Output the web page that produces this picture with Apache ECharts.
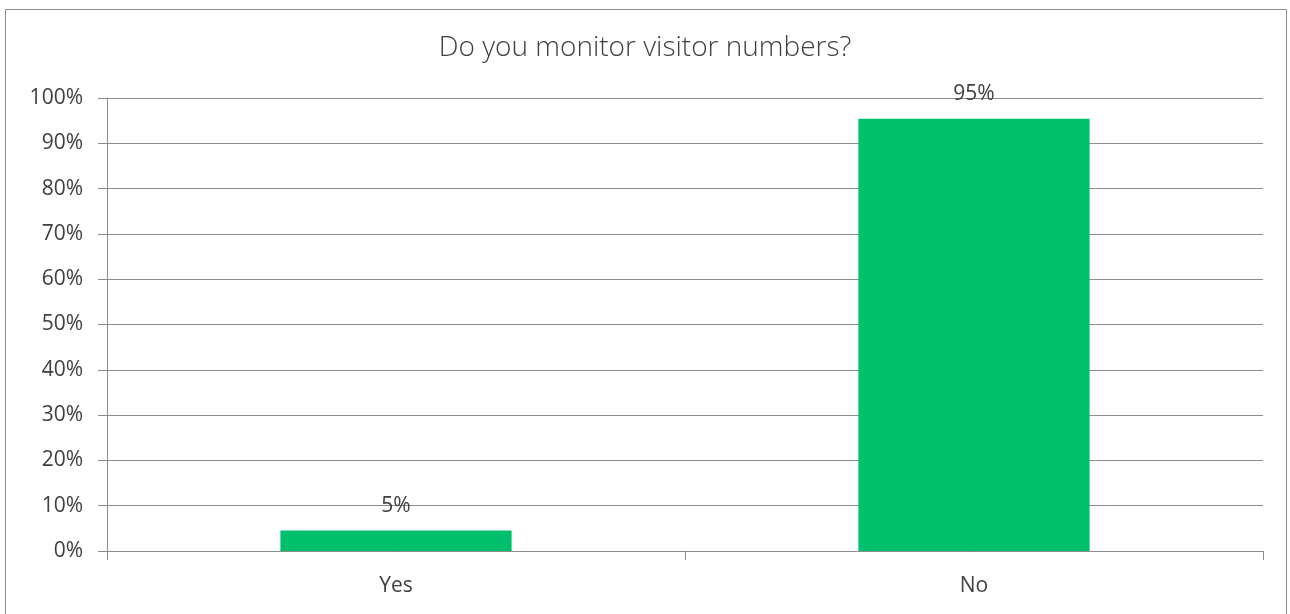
<!DOCTYPE html>
<html><head><meta charset="utf-8">
<script src="https://cdn.jsdelivr.net/npm/echarts@6/dist/echarts.min.js"></script>
<style>html,body{margin:0;padding:0;background:#fff}#c{width:1290px;height:614px}</style>
</head><body><div id="c"></div>
<script>
const categories = ['Yes', 'No'];
const values = [4.5, 95.4];
const labels = ['5%', '95%'];
const yTicks = [0, 10, 20, 30, 40, 50, 60, 70, 80, 90, 100];

const chart = echarts.init(document.getElementById('c'), null, {renderer: 'canvas'});
chart.setOption({
  animation: false,
  backgroundColor: '#fff',
  graphic: [{type: 'rect', shape: {x: 5.5, y: 9.5, width: 1281, height: 620}, style: {fill: 'none', stroke: '#8c8c8c', lineWidth: 1}, silent: true}],
  title: {
    text: 'Do you monitor visitor numbers?', left: 'center', top: 29,
    textStyle: {fontFamily: '"Open Sans"', fontWeight: 300, fontSize: 28, color: '#404040'}
  },
  grid: {left: 107, right: 27, top: 98, bottom: 63},
  xAxis: {
    type: 'category', data: categories,
    axisLine: {lineStyle: {color: '#8c8c8c'}},
    axisTick: {show: true, alignWithLabel: false, length: 9, lineStyle: {color: '#8c8c8c'}},
    axisLabel: {fontFamily: '"Open Sans"', fontSize: 21, color: '#404040', margin: 25}
  },
  yAxis: {
    type: 'value', min: 0, max: 100, interval: 10,
    axisLine: {show: true, lineStyle: {color: '#8c8c8c'}},
    axisTick: {show: true, length: 9, inside: false, lineStyle: {color: '#8c8c8c'}},
    splitLine: {lineStyle: {color: '#8c8c8c'}},
    axisLabel: {fontFamily: '"Open Sans"', fontSize: 21, color: '#404040', margin: 24,
      formatter: v => yTicks.includes(v) ? v + '%' : ''}
  },
  series: [{
    type: 'bar', data: values, barWidth: '40%',
    itemStyle: {color: '#00c06e'},
    label: {show: true, position: 'top', distance: 14, fontFamily: '"Open Sans"', fontSize: 21, color: '#404040',
      formatter: p => labels[p.dataIndex]}
  }]
});
</script></body></html>
